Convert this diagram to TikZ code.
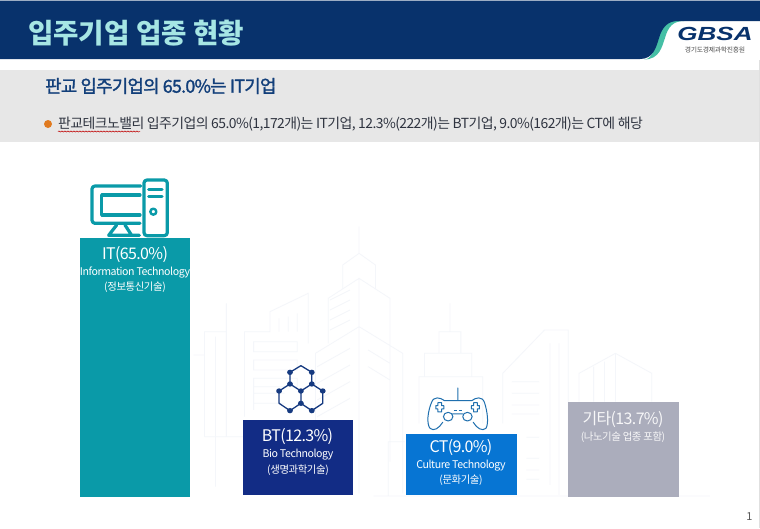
\documentclass[tikz,border=0pt]{standalone}
\usepackage{fontspec}
\setmainfont{Noto Sans CJK KR}
\newfontfamily\tight[LetterSpace=-4]{Noto Sans CJK KR}
\newfontfamily\semitight[FakeBold=1.6,LetterSpace=-4]{Noto Sans CJK KR}
\newfontfamily\logofont{Liberation Sans}
\usetikzlibrary{decorations.pathmorphing}
\definecolor{navy}{HTML}{08326C}
\definecolor{mint}{HTML}{A6E6E4}
\definecolor{band}{HTML}{E7E7E7}
\definecolor{subnavy}{HTML}{123F7A}
\definecolor{bodytext}{HTML}{2F3440}
\definecolor{orangedot}{HTML}{E07A1F}
\definecolor{itbar}{HTML}{0A9AA8}
\definecolor{btbar}{HTML}{122C85}
\definecolor{ctbar}{HTML}{0775D3}
\definecolor{etcbar}{HTML}{ABADBC}
\definecolor{city}{HTML}{F4F6FA}
\definecolor{hexcol}{HTML}{163A80}
\definecolor{padcol}{HTML}{1F6FAE}
\definecolor{stripe}{HTML}{45BFA5}
\tikzset{
  lbl/.style={text=white,inner sep=0pt,anchor=center},
  big/.style={lbl,font=\tight\fontsize{16}{18}\selectfont},
  mid/.style={lbl,font=\tight\fontsize{10.6}{12}\selectfont},
  small/.style={lbl,font=\tight\fontsize{10.4}{12}\selectfont},
  cityline/.style={draw=city,line width=0.8pt},
  iconit/.style={draw=itbar,line width=3.2pt,line join=round,line cap=round},
}
\begin{document}
\begin{tikzpicture}[x=1pt,y=-1pt]
\useasboundingbox (0,0) rectangle (760,528);
\fill[white] (0,0) rectangle (760,528);
% header
\fill[stripe] (644,59.5) .. controls (660,59.5) and (662,46) .. (665,38) .. controls (668,27) and (673,21) .. (684,21) -- (676,21) .. controls (665,21) and (661,28) .. (658,38) .. controls (655,48) and (652,59.5) .. (644,59.5) -- cycle;
\fill[navy] (0,0) -- (760,0) -- (760,21) -- (678,21) .. controls (667,21) and (662,28) .. (659,38) .. controls (656,48) and (653,59) .. (640,59) -- (0,59) -- cycle;
\fill[white!60!navy] (0,0) rectangle (760,0.8);
\node[inner sep=0pt,anchor=west,text=mint,font=\fontsize{27.6}{30}\selectfont\bfseries] (title) at (28,33) {입주기업 업종 현황};
\node[inner sep=0pt,anchor=center,text=navy,xscale=1.37,font=\logofont\fontsize{19}{20}\selectfont\bfseries\itshape] (gbsa) at (715,34) {GBSA};
\node[inner sep=0pt,anchor=center,text=black!70,font=\tight\fontsize{6.8}{8}\selectfont] (gbsasub) at (715,49.5) {경기도경제과학진흥원};
% band
\fill[band] (0,70) rectangle (760,142);
\node[inner sep=0pt,anchor=west,text=subnavy,font=\semitight\fontsize{17.8}{20}\selectfont] (head) at (45,86) {판교 입주기업의 65.0\%는 IT기업};
\fill[orangedot] (48,124) circle (4);
\node[inner sep=0pt,anchor=west,text=bodytext,font=\tight\fontsize{13.9}{16}\selectfont] (body) at (58,124) {판교테크노밸리 입주기업의 65.0\%(1,172개)는 IT기업, 12.3\%(222개)는 BT기업, 9.0\%(162개)는 CT에 해당};
\draw[red!75!black,line width=0.5pt,decorate,decoration={snake,amplitude=0.5pt,segment length=3pt}] (58,131.5) -- (140,131.5);
% city background
\begin{scope}[shift={(190,210)},xscale=0.3636,yscale=0.3333]
\draw[cityline]
 (465,50)--(465,130) (420,235)--(420,165)--(465,130)--(510,165)--(510,235)
 (380,400)--(380,265)--(465,205)--(550,265)--(550,755)
 (345,850)--(345,430)--(465,350)--(585,430)--(585,850)
 (465,205)--(465,850)
 (385,270)--(440,240) (385,300)--(440,270) (385,330)--(440,300) (385,360)--(440,330)
 (350,470)--(440,415) (350,520)--(440,465) (350,570)--(440,515) (350,620)--(440,565)
 (490,420)--(550,460) (490,470)--(550,510)
 (100,280)--(100,680) (40,680)--(40,365)--(100,365) (40,680)--(150,680)
 (10,435)--(40,435) (70,380)--(70,830)
 (150,620)--(150,365)--(220,365)--(220,305)--(325,250)--(325,400)
 (245,325)--(245,365) (270,320)--(270,365) (295,310)--(295,365)
 (175,395)--(295,395)--(295,425)--(175,425)--cycle
 (175,450)--(295,450)--(295,480)--(175,480)--cycle
 (175,505)--(295,505)--(295,530)--(175,530)--cycle
 (175,550)--(260,550) (175,580)--(260,580) (175,600)--(175,530)
 (715,280)--(715,365) (685,430)--(685,365)--(745,365)--(745,430)
 (645,500)--(645,430)--(775,430)--(775,500)
 (630,640)--(630,500)--(805,500)--(805,640)
 (545,858)--(545,695)--(590,695)
 (860,640)--(860,490)--(975,360)--(1040,360)--(1040,750)
 (990,400)--(990,825) (1015,400)--(1015,855)
 (885,515)--(960,515) (885,550)--(960,550) (885,585)--(960,585) (885,612)--(960,612)
 (925,682)--(960,682) (925,745)--(960,745) (925,780)--(960,780) (925,808)--(960,808)
 (1070,575)--(1070,490)--(1170,430)--(1270,490)--(1270,575)
 (1110,470)--(1110,575) (1140,455)--(1140,575) (1170,430)--(1170,575)
 (505,858)--(1430,858);
\end{scope}
% bars
\fill[itbar] (80,238) rectangle (190,497);
\fill[btbar] (242.5,420) rectangle (353,495);
\fill[ctbar] (406,433.5) rectangle (516.5,495);
\fill[etcbar] (568,402) rectangle (679,497);
% bar labels
\node[big] (itA) at (135,255) {IT(65.0\%)};
\node[mid] (itB) at (135,272.5) {Information Technology};
\node[small] (itC) at (135,287) {(정보통신기술)};
\node[big] (btA) at (297.5,436.5) {BT(12.3\%)};
\node[mid] (btB) at (298,454.5) {Bio Technology};
\node[small] (btC) at (298,470) {(생명과학기술)};
\node[big] (ctA) at (461,447.5) {CT(9.0\%)};
\node[mid] (ctB) at (461,465.5) {Culture Technology};
\node[small] (ctC) at (461,480.5) {(문화기술)};
\node[big,text=white!90!etcbar] (etA) at (623,419) {기타(13.7\%)};
\node[small,text=white!90!etcbar] (etB) at (623,437) {(나노기술 업종 포함)};
% IT icon
\begin{scope}[shift={(70,170)},scale=0.3333]
\draw[iconit,rounded corners=3pt] (212,48) -- (66,48) -- (66,160) -- (210,160);
\draw[iconit] (210,75) -- (95,75) -- (95,135) -- (210,135);
\draw[iconit] (140,165) -- (116,196) -- (208,196) (165,165) -- (185,196);
\draw[iconit,rounded corners=3pt] (222,30) rectangle (292,197);
\draw[iconit] (236,58) -- (276,58) (236,80) -- (276,80);
\draw[iconit,line width=2.4pt] (250,125) circle (9);
\end{scope}
% BT and CT icons
\begin{scope}[shift={(190,210)},xscale=0.3636,yscale=0.3333]
\draw[hexcol,line width=1.3pt,line join=round]
 (305,467)--(335,487)--(335,522)--(305,543)--(275,522)--(275,487)--cycle
 (275,522)--(245,543)--(245,580)--(275,602)--(305,580)--(305,543)
 (335,522)--(365,543)--(365,580)--(335,602)--(305,580);
\foreach \p in {(275,487),(335,487),(275,522),(335,522),(245,543),(305,543),(365,543),(305,580),(275,602),(335,602)}
  \fill[hexcol] \p circle (8);
\draw[padcol,line width=1pt,line join=round,line cap=round]
 (737,534)--(737,572)
 (737,572)--(700,572) .. controls (688,562) and (670,558) .. (664,578)
 .. controls (654,605) and (650,640) .. (660,655) .. controls (670,665) and (685,655) .. (695,637)
 (779,637) .. controls (789,655) and (804,665) .. (814,655) .. controls (822,640) and (818,605) .. (810,578)
 .. controls (804,558) and (786,562) .. (775,572) -- (737,572)
 (722,612) -- (750,612)
 (710,620) circle (13) (763,620) circle (13)
 (676,592)--(676,587)--(682,587)--(682,578)--(692,578)--(692,587)--(698,587)--(698,597)--(692,597)--(692,606)--(682,606)--(682,597)--(676,597)--cycle
 (774,592)--(774,587)--(780,587)--(780,578)--(790,578)--(790,587)--(796,587)--(796,597)--(790,597)--(790,606)--(780,606)--(780,597)--(774,597)--cycle;
\draw[padcol,line width=1.2pt] (725,601)--(733,601) (739,601)--(748,601);
\end{scope}
% page number, page edge
\node[inner sep=0pt,text=black!65,font=\fontsize{11}{12}\selectfont] (pg) at (749.5,517) {1};
\draw[black!12,line width=0.6pt] (759.5,60) -- (759.5,528);
\end{tikzpicture}
\end{document}
